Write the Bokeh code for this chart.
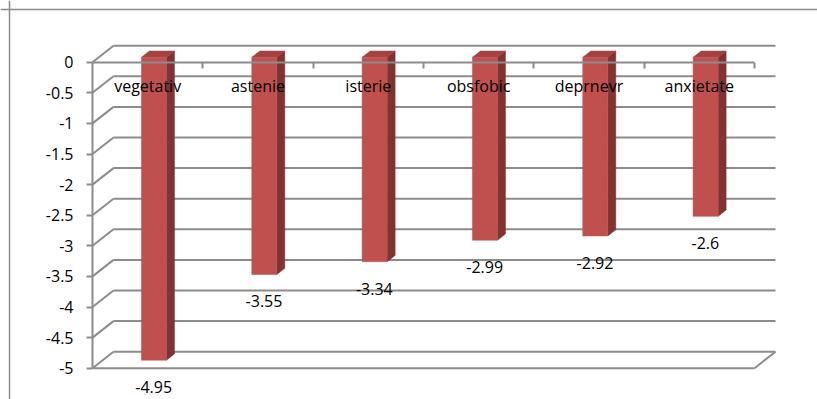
from bokeh.plotting import figure
from bokeh.models import Range1d, LinearAxis, FixedTicker, Span
from bokeh.embed import file_html
from bokeh.resources import INLINE
from bokeh.core.properties import value

# ---- data ----
categories = ["vegetativ", "astenie", "isterie", "obsfobic", "deprnevr", "anxietate"]
values = [-4.95, -3.55, -3.34, -2.99, -2.92, -2.6]
y_ticks = [0, -0.5, -1, -1.5, -2, -2.5, -3, -3.5, -4, -4.5, -5]
y_tick_labels = ["0", "-0.5", "-1", "-1.5", "-2", "-2.5", "-3", "-3.5", "-4", "-4.5", "-5"]

# ---- layout (pixels) ----
W, H = 817, 399
X0PX = 92.0      # front plane left edge
CATPX = 110.33   # category width
Y0PX = 61.7      # value 0 on front plane
UNITPX = 61.2    # px per value unit
DXPX, DYPX = 21.0, 16.5   # 3-D depth offset
BORDER_PX = 9.0

n = len(categories)
ymin = min(y_ticks)
DX = DXPX / CATPX
DY = DYPX / UNITPX

FONT_NAME = "Open Sans"
FONT = value(FONT_NAME)
FSIZE = "16px"
GRID = "#8c8c8c"
TXT = "#000000"

p = figure(width=W, height=H, output_backend="svg", toolbar_location=None,
           x_axis_location=None, y_axis_location=None, min_border=0,
           x_range=Range1d(-X0PX / CATPX, (W - X0PX) / CATPX),
           y_range=Range1d(-(H - Y0PX) / UNITPX, Y0PX / UNITPX))
p.grid.visible = False
p.outline_line_color = None
p.background_fill_color = "white"
p.border_fill_color = "white"

# outer chart border (left and top)
p.add_layout(Span(location=(BORDER_PX - X0PX) / CATPX, dimension="height",
                  line_color="#8a8a8a", line_width=1.5))
p.add_layout(Span(location=Y0PX / UNITPX - BORDER_PX / UNITPX, dimension="width",
                  line_color="#8a8a8a", line_width=1.5))

# walls: back wall gridlines, side wall diagonals, floor
x0s, y0s, x1s, y1s = [], [], [], []
for t in y_ticks:
    x0s += [DX, 0]
    y0s += [t + DY, t]
    x1s += [n + DX, DX]
    y1s += [t + DY, t + DY]
# floor front edge and right diagonal
x0s += [0, n]
y0s += [ymin, ymin]
x1s += [n, n + DX]
y1s += [ymin, ymin + DY]
p.segment(x0=x0s, y0=y0s, x1=x1s, y1=y1s, line_color=GRID, line_width=2)

# bars (3-D)
BW = 0.227
DF, DB = 0.3, 0.68
fdx, fdy = DF * DX, DF * DY
bdx, bdy = DB * DX, DB * DY
front_x, front_y, side_x, side_y, top_x, top_y = [], [], [], [], [], []
for i, v in enumerate(values):
    xl = i + 0.5 - BW / 2
    xr = i + 0.5 + BW / 2
    front_x.append([xl + fdx, xr + fdx, xr + fdx, xl + fdx])
    front_y.append([fdy, fdy, v + fdy, v + fdy])
    side_x.append([xr + fdx, xr + bdx, xr + bdx, xr + fdx])
    side_y.append([fdy, bdy, v + bdy, v + fdy])
    top_x.append([xl + fdx, xr + fdx, xr + bdx, xl + bdx])
    top_y.append([fdy, fdy, bdy, bdy])
p.patches(side_x, side_y, fill_color="#7e3432", line_color="#7e3432", line_width=0.5)
p.patches(top_x, top_y, fill_color="#a34240", line_color="#a34240", line_width=0.5)
p.patches(front_x, front_y, fill_color="#c0504d", line_color="#c0504d", line_width=0.5)

# data labels
p.text(x=[i + 0.5 for i in range(n)], y=values, text=[f"{v:g}" for v in values],
       x_offset=6, y_offset=22, text_align="center", text_baseline="middle",
       text_font=FONT, text_font_size=FSIZE, text_color=TXT)

# value axis on the front plane
yax = LinearAxis(fixed_location=0, bounds=(ymin, 0),
                 ticker=FixedTicker(ticks=y_ticks),
                 major_label_overrides={float(t): s for t, s in zip(y_ticks, y_tick_labels)},
                 major_tick_out=6, major_tick_in=0, minor_tick_out=0, minor_tick_in=0,
                 major_label_standoff=13,
                 axis_line_color=GRID, axis_line_width=2,
                 major_tick_line_color=GRID, major_tick_line_width=2,
                 major_label_text_font=FONT_NAME, major_label_text_font_size=FSIZE,
                 major_label_text_color=TXT)
p.add_layout(yax, "left")

# category axis at value 0
xax = LinearAxis(fixed_location=0, bounds=(0, n),
                 ticker=FixedTicker(ticks=[i + 0.5 for i in range(n)],
                                    minor_ticks=list(range(1, n + 1))),
                 major_label_overrides={i + 0.5: c for i, c in enumerate(categories)},
                 major_tick_out=0, major_tick_in=0, minor_tick_out=6, minor_tick_in=0,
                 major_label_standoff=7,
                 axis_line_color=GRID, axis_line_width=2,
                 minor_tick_line_color=GRID, minor_tick_line_width=2,
                 major_label_text_font=FONT_NAME, major_label_text_font_size=FSIZE,
                 major_label_text_color=TXT)
p.add_layout(xax, "below")

open("out.html", "w").write(file_html(p, INLINE))
